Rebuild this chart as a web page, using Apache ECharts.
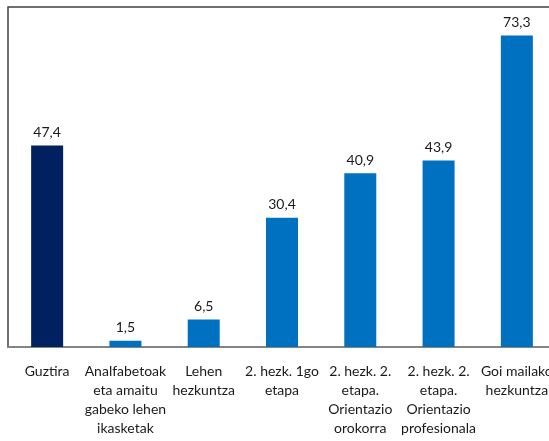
<!DOCTYPE html>
<html><head><meta charset="utf-8">
<script src="https://cdn.jsdelivr.net/npm/echarts@6/dist/echarts.min.js"></script>
<style>html,body{margin:0;padding:0;background:#fff;overflow:hidden}#c{width:560px;height:441px}</style>
</head><body><div id="c"></div>
<script>
const categories = ["Guztira", "Analfabetoak\neta amaitu\ngabeko lehen\nikasketak", "Lehen\nhezkuntza", "2. hezk. 1go\netapa", "2. hezk. 2.\netapa.\nOrientazio\norokorra", "2. hezk. 2.\netapa.\nOrientazio\nprofesionala", "Goi mailako\nhezkuntza"];
const values = [47.4, 1.5, 6.5, 30.4, 40.9, 43.9, 73.3];
const colors = ["#002060", "#0070C0", "#0070C0", "#0070C0", "#0070C0", "#0070C0", "#0070C0"];
const chart = echarts.init(document.getElementById('c'));
chart.setOption({
  animation: false,
  grid: {left: 8, top: 7, right: 4, bottom: 94, show: true, borderColor: '#404040', borderWidth: 1.5, containLabel: false},
  xAxis: {type: 'category', data: categories,
    axisLine: {lineStyle: {color: '#8c8c8c', width: 1.5}}, axisTick: {show: false},
    axisLabel: {interval: 0, color: '#1a1a1a', fontFamily: 'Lato', fontSize: 14, lineHeight: 19, margin: 15}},
  yAxis: {type: 'value', min: 0, max: 80, show: false, splitLine: {show: false}},
  series: [{type: 'bar', barWidth: 32,
    data: values.map((v, i) => ({value: v, itemStyle: {color: colors[i]}})),
    label: {show: true, position: 'top', distance: 6, color: '#1a1a1a', fontFamily: 'Lato', fontSize: 14,
      formatter: p => String(p.value).replace('.', ',')}}]
});
</script></body></html>
